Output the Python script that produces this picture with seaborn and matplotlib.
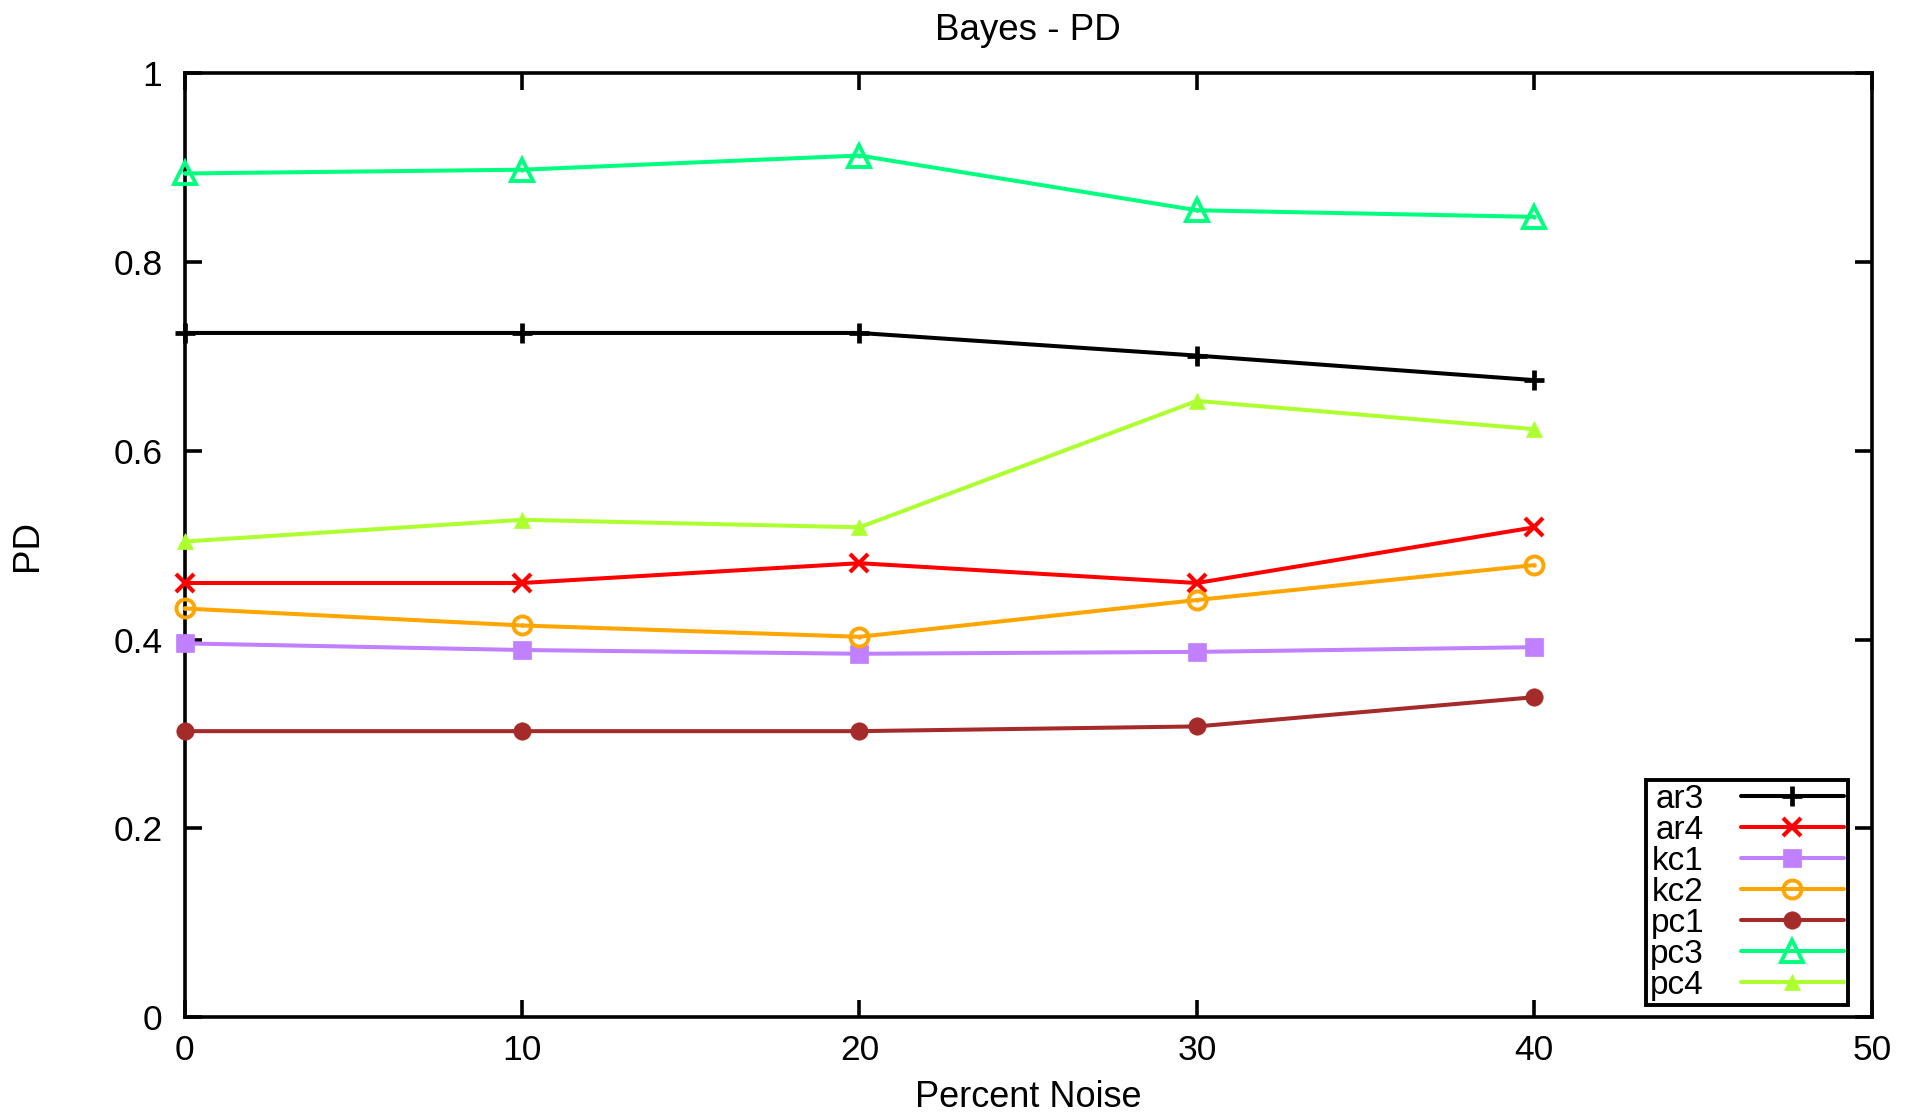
import matplotlib
matplotlib.use("Agg")
import matplotlib.pyplot as plt
import seaborn as sns

# Percent noise levels (x) and PD values for each dataset
noise = [0, 10, 20, 30, 40]
ar3 = [0.725, 0.725, 0.725, 0.701, 0.675]
ar4 = [0.460, 0.460, 0.481, 0.460, 0.519]
kc1 = [0.396, 0.389, 0.385, 0.387, 0.392]
kc2 = [0.433, 0.415, 0.403, 0.442, 0.479]
pc1 = [0.303, 0.303, 0.303, 0.308, 0.339]
pc3 = [0.894, 0.898, 0.913, 0.855, 0.848]
pc4 = [0.504, 0.527, 0.519, 0.653, 0.623]

names = ["ar3", "ar4", "kc1", "kc2", "pc1", "pc3", "pc4"]
values = [ar3, ar4, kc1, kc2, pc1, pc3, pc4]
x_ticks = [0, 10, 20, 30, 40, 50]
y_ticks = [0, 0.2, 0.4, 0.6, 0.8, 1.0]
y_tick_labels = ["0", "0.2", "0.4", "0.6", "0.8", "1"]

# gnuplot-like line/point styles
styles = {
    "ar3": dict(color="#000000", marker="+", ms=14, mfc="#000000", mew=3.4),
    "ar4": dict(color="#ff0000", marker="x", ms=13, mfc="#ff0000", mew=3.0),
    "kc1": dict(color="#c080ff", marker="s", ms=13, mfc="#c080ff", mew=0.5),
    "kc2": dict(color="#ffa500", marker="o", ms=13, mfc="none", mew=2.8),
    "pc1": dict(color="#a52a2a", marker="o", ms=12.5, mfc="#a52a2a", mew=0.5),
    "pc3": dict(color="#00ff7f", marker="^", ms=16, mfc="none", mew=2.8),
    "pc4": dict(color="#adff2f", marker="^", ms=11, mfc="#adff2f", mew=0.5),
}

sns.set_theme(style="ticks")
plt.rcParams["font.family"] = ["Liberation Sans", "DejaVu Sans"]

fig = plt.figure(figsize=(19.17, 11.13), dpi=100)
ax = fig.add_axes([0.0963, 0.0862, 0.8801, 0.8478])

for name, vals in zip(names, values):
    st = styles[name]
    sns.lineplot(x=noise, y=vals, ax=ax, color=st["color"], linewidth=2.9,
                 marker=st["marker"], markersize=st["ms"],
                 markerfacecolor=st["mfc"], markeredgecolor=st["color"],
                 markeredgewidth=st["mew"], label=name, clip_on=False,
                 zorder=3)

# small centre dots inside the open circle / triangle points
sns.scatterplot(x=noise, y=kc2, ax=ax, color="#ffa500", s=10, linewidth=0,
                clip_on=False, zorder=4, legend=False)
sns.scatterplot(x=noise, y=pc3, ax=ax, color="#00ff7f", s=10, linewidth=0,
                clip_on=False, zorder=4, legend=False)

ax.set_xlim(0, 50)
ax.set_ylim(0, 1)
ax.set_xticks(x_ticks)
ax.set_yticks(y_ticks)
ax.set_yticklabels(y_tick_labels)

for sp in ax.spines.values():
    sp.set_visible(True)
    sp.set_linewidth(2.6)
    sp.set_color("black")

ax.tick_params(axis="both", which="major", direction="in", length=12,
               width=2.6, color="black", labelsize=25.5, labelcolor="black",
               top=True, right=True)
ax.tick_params(axis="x", pad=12)
ax.tick_params(axis="y", pad=16)

ax.set_title("Bayes - PD", fontsize=26.5, color="black", pad=24)
ax.set_xlabel("Percent Noise", fontsize=26, color="black")
ax.set_ylabel("PD", fontsize=26.5, color="black")
ax.xaxis.set_label_coords(0.5, -0.067)
ax.yaxis.set_label_coords(-0.083, 0.5)

leg = ax.legend(loc="lower right", bbox_to_anchor=(0.9859, 0.0127),
                borderaxespad=0, markerfirst=False, fontsize=24,
                handlelength=3.1, handletextpad=1.1, labelspacing=0.0,
                borderpad=0.12, numpoints=1, fancybox=False, framealpha=1,
                edgecolor="black")
leg.get_frame().set_linewidth(2.8)
for t in leg.get_texts():
    t.set_color("black")

fig.savefig("out.png", dpi=100, facecolor="white")
